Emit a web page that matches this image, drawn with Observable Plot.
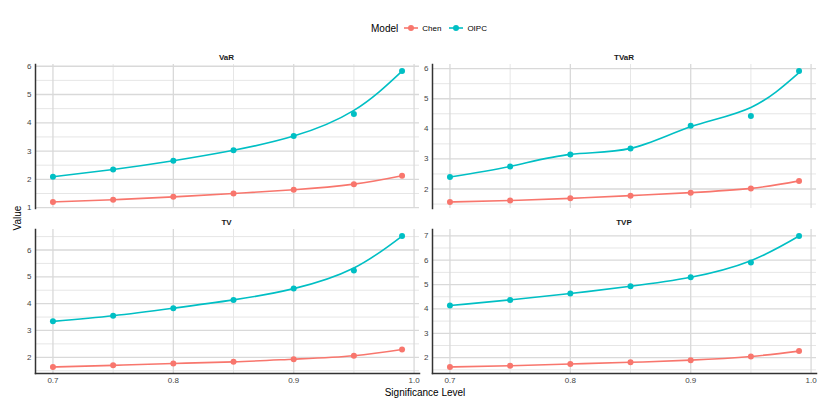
<!DOCTYPE html>
<html>
<head>
<meta charset="utf-8">
<script src="https://cdn.jsdelivr.net/npm/d3@7"></script>
<script src="https://cdn.jsdelivr.net/npm/@observablehq/plot@0.6"></script>
<style>
  html, body { margin: 0; padding: 0; background: #fff; }
  #wrap { position: relative; width: 833px; height: 402px; font-family: "Liberation Sans", Arial, sans-serif; color: #000; overflow: hidden; }
  .abs { position: absolute; }
  .strip { position: absolute; font-size: 8px; font-weight: bold; color: #1a1a1a; transform: translate(-50%, -50%); white-space: nowrap; }
  .ttl { position: absolute; font-size: 10px; color: #000; white-space: nowrap; }
</style>
</head>
<body>
<div id="wrap"></div>
<script>
// ---- data ----
const levels = [0.7, 0.75, 0.8, 0.85, 0.9, 0.95, 0.99];
const models = ["Chen", "OIPC"];
const modelColors = ["#F8766D", "#00BFC4"];
const panelNames = ["VaR", "TVaR", "TV", "TVP"];

const varChen   = [1.20, 1.28, 1.38, 1.50, 1.63, 1.83, 2.13];
const varOIPC   = [2.09, 2.35, 2.66, 3.03, 3.53, 4.31, 5.83];
const varOIPCFit= [2.09, 2.35, 2.66, 3.03, 3.53, 4.44, 5.83];

const tvarChen   = [1.57, 1.62, 1.69, 1.78, 1.88, 2.02, 2.27];
const tvarOIPC   = [2.40, 2.75, 3.15, 3.35, 4.10, 4.43, 5.92];
const tvarOIPCFit= [2.40, 2.75, 3.15, 3.35, 4.07, 4.71, 5.87];

const tvChen   = [1.64, 1.70, 1.77, 1.83, 1.93, 2.06, 2.29];
const tvOIPC   = [3.34, 3.55, 3.83, 4.14, 4.56, 5.24, 6.52];
const tvOIPCFit= [3.34, 3.55, 3.83, 4.14, 4.56, 5.33, 6.52];

const tvpChen   = [1.62, 1.67, 1.74, 1.81, 1.90, 2.05, 2.27];
const tvpOIPC   = [4.14, 4.37, 4.63, 4.93, 5.30, 5.90, 6.99];
const tvpOIPCFit= [4.14, 4.37, 4.63, 4.93, 5.30, 5.98, 6.99];

const xMajor = [0.7, 0.8, 0.9, 1.0];
const xMinor = [0.75, 0.85, 0.95];

// ---- build tables ----
function table(chen, oipc) {
  return levels.flatMap((l, i) => [
    {level: l, value: chen[i], model: "Chen"},
    {level: l, value: oipc[i], model: "OIPC"}
  ]);
}
const panels = [
  {name: panelNames[0], pts: table(varChen, varOIPC),   fit: table(varChen, varOIPCFit),   left: 34.5, top: 64,  bottom: false},
  {name: panelNames[1], pts: table(tvarChen, tvarOIPC), fit: table(tvarChen, tvarOIPCFit), left: 432,  top: 64,  bottom: false},
  {name: panelNames[2], pts: table(tvChen, tvOIPC),     fit: table(tvChen, tvOIPCFit),     left: 34.5, top: 229, bottom: true},
  {name: panelNames[3], pts: table(tvpChen, tvpOIPC),   fit: table(tvpChen, tvpOIPCFit),   left: 432,  top: 229, bottom: true}
];

const wrap = document.getElementById("wrap");
const PW = 384, PH = 144;
const mL = 22, mR = 4, mT = 2;
const xDomain = [0.7 - 0.05 * 0.29, 0.99 + 0.05 * 0.29];

for (const p of panels) {
  const vals = p.pts.map(d => d.value).concat(p.fit.map(d => d.value));
  const lo = d3.min(vals), hi = d3.max(vals), pad = 0.05 * (hi - lo);
  const yDomain = [lo - pad, hi + pad];
  const yMajor = d3.range(Math.ceil(yDomain[0]), Math.floor(yDomain[1]) + 1);
  const yMinor = d3.range(Math.ceil(yDomain[0] * 2) / 2, yDomain[1], 0.5).filter(v => v % 1 !== 0);
  const mB = p.bottom ? 18 : 2;
  const marks = [
    Plot.gridY(yMinor, {stroke: "#e6e6e6", strokeOpacity: 1, strokeWidth: 1}),
    Plot.gridX(xMinor, {stroke: "#e6e6e6", strokeOpacity: 1, strokeWidth: 1}),
    Plot.gridY(yMajor, {stroke: "#d9d9d9", strokeOpacity: 1, strokeWidth: 1.3}),
    Plot.gridX(xMajor, {stroke: "#d9d9d9", strokeOpacity: 1, strokeWidth: 1.3}),
    Plot.axisY(yMajor, {tickSize: 0, tickPadding: 4, fontSize: 8, color: "#444", label: null}),
    p.bottom
      ? Plot.axisX(xMajor, {tickSize: 0, tickPadding: 4, fontSize: 8, color: "#444", label: null, tickFormat: d3.format(".1f")})
      : Plot.axisX([], {label: null}),
    Plot.frame({anchor: "left", stroke: "#333", strokeWidth: 1.5}),
    p.bottom ? Plot.frame({anchor: "bottom", stroke: "#333", strokeWidth: 1.5}) : null,
    Plot.line(p.fit, {x: "level", y: "value", z: "model", stroke: "model", strokeWidth: 1.6, curve: "natural"}),
    Plot.dot(p.pts, {x: "level", y: "value", fill: "model", r: 3})
  ];
  const svg = Plot.plot({
    width: PW + mL + mR,
    height: PH + mT + mB,
    marginLeft: mL, marginRight: mR, marginTop: mT, marginBottom: mB,
    x: {domain: xDomain, axis: null},
    y: {domain: yDomain, axis: null},
    color: {domain: models, range: modelColors},
    style: {fontFamily: '"Liberation Sans", Arial, sans-serif', background: "transparent", overflow: "visible"},
    marks: marks.filter(Boolean)
  });
  svg.classList.add("abs");
  svg.style.left = (p.left - mL) + "px";
  svg.style.top = (p.top - mT) + "px";
  wrap.appendChild(svg);

  const s = document.createElement("div");
  s.className = "strip";
  s.textContent = p.name;
  s.style.left = (p.left + PW / 2) + "px";
  s.style.top = (p.top - 7) + "px";
  wrap.appendChild(s);
}

// axis titles
const xt = document.createElement("div");
xt.className = "ttl";
xt.textContent = "Significance Level";
xt.style.left = "425px"; xt.style.top = "392px"; xt.style.transform = "translate(-50%, -50%)";
wrap.appendChild(xt);

const yt = document.createElement("div");
yt.className = "ttl";
yt.textContent = "Value";
yt.style.left = "17px"; yt.style.top = "218px"; yt.style.transform = "translate(-50%, -50%) rotate(-90deg)";
wrap.appendChild(yt);

// legend
const leg = document.createElement("div");
leg.className = "abs";
leg.style.left = "371px"; leg.style.top = "21px";
leg.style.display = "flex"; leg.style.alignItems = "center"; leg.style.whiteSpace = "nowrap";
let html = '<span style="font-size:10px;margin-right:5px">Model</span>';
models.forEach((m, i) => {
  html += '<svg width="16" height="14" style="margin-right:3px"><line x1="1" x2="15" y1="7" y2="7" stroke="' + modelColors[i] +
          '" stroke-width="1.6"/><circle cx="8" cy="7" r="3" fill="' + modelColors[i] + '"/></svg>' +
          '<span style="font-size:8px;margin-right:7px">' + m + '</span>';
});
leg.innerHTML = html;
wrap.appendChild(leg);
</script>
</body>
</html>
